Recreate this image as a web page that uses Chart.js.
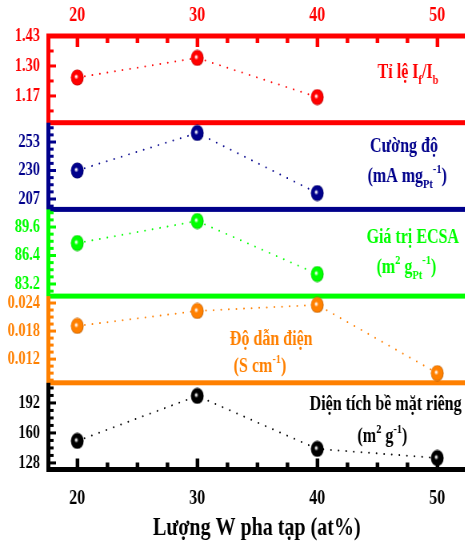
<!DOCTYPE html>
<html>
<head>
<meta charset="utf-8">
<script src="https://cdn.jsdelivr.net/npm/chart.js@4"></script>
<style>
    html, body { margin: 0; padding: 0; overflow: hidden; background: #fff; }
    /* the original picture is squeezed sideways, so draw wide and squeeze */
    #wrap { width: 582px; height: 552px; transform: scale(0.8, 1); transform-origin: 0 0; }
</style>
</head>
<body>
<div id="wrap"><canvas id="chart" width="582" height="552"></canvas></div>
<script>
const doping = [20, 30, 40, 50];
const xTicks = [20, 30, 40, 50];
const xRange = [17.56, 52.36];

// Tỉ lệ If/Ib
const ratioValues = [1.25, 1.335, 1.165];
const ratioTicks = [1.17, 1.30, 1.43];
const ratioRange = [1.054, 1.43];

// Cường độ (mA mgPt-1)
const currentValues = [230, 260.3, 211.8];
const currentTicks = [207, 230, 253];
const currentRange = [198.6, 268.6];

// Giá trị ECSA (m2 gPt-1)
const ecsaValues = [87.8, 90.27, 84.32];
const ecsaTicks = [83.2, 86.4, 89.6];
const ecsaRange = [81.84, 91.58];

// Độ dẫn điện (S cm-1)
const condValues = [0.0191, 0.0223, 0.0236, 0.0090];
const condTicks = [0.012, 0.018, 0.024];
const condRange = [0.00693, 0.02548];

// Diện tích bề mặt riêng (m2 g-1)
const areaValues = [151.5, 199.5, 143, 133.3];
const areaTicks = [128, 160, 192];
const areaRange = [121.0, 213.5];

const FONT = '"Liberation Serif", "Times New Roman", serif';

// top to bottom
const panels = [
    { id : 'yRatio', color : '#ff0000', values : ratioValues, ticks : ratioTicks, range : ratioRange, dec : 2, minor : 2,
      label : [
          { y : 78, x : 510, parts : [['Tỉ lệ I', 0], ['f', 1], ['/I', 0], ['b', 1]] }
      ] },
    { id : 'yCurrent', color : '#00008b', values : currentValues, ticks : currentTicks, range : currentRange, dec : 0, minor : 4,
      label : [
          { y : 152, x : 505, parts : [['Cường độ', 0]] },
          { y : 182, x : 509, parts : [['(mA mg', 0], ['Pt', 1], ['-1', 2], [')', 0]] }
      ] },
    { id : 'yEcsa', color : '#00ff00', values : ecsaValues, ticks : ecsaTicks, range : ecsaRange, dec : 1, minor : 4,
      label : [
          { y : 243, x : 516, parts : [['Giá trị ECSA', 0]] },
          { y : 273, x : 508, parts : [['(m', 0], ['2', 2], [' g', 0], ['Pt', 1], ['-1', 2], [')', 0]] }
      ] },
    { id : 'yCond', color : '#ff8000', values : condValues, ticks : condTicks, range : condRange, dec : 3, minor : 4,
      label : [
          { y : 345, x : 339, parts : [['Độ dẫn điện', 0]] },
          { y : 372, x : 325, parts : [['(S cm', 0], ['-1', 2], [')', 0]] }
      ] },
    { id : 'yArea', color : '#000000', values : areaValues, ticks : areaTicks, range : areaRange, dec : 0, minor : 4,
      label : [
          { y : 410, x : 482, parts : [['Diện tích bề mặt riêng', 0]] },
          { y : 442, x : 478, parts : [['(m', 0], ['2', 2], [' g', 0], ['-1', 2], [')', 0]] }
      ] }
];

// shiny ball used as marker
function ball(color) {
    const c = document.createElement('canvas');
    c.width = 17;
    c.height = 17;
    const g = c.getContext('2d');
    const grad = g.createRadialGradient(7, 7.5, 0.5, 8.5, 8.5, 8.5);
    grad.addColorStop(0, '#ffffff');
    grad.addColorStop(0.28, color);
    grad.addColorStop(0.8, color);
    grad.addColorStop(1, color === '#000000' ? '#000000' : shade(color));
    g.fillStyle = grad;
    g.beginPath();
    g.arc(8.5, 8.5, 8, 0, Math.PI * 2);
    g.fill();
    return c;
}

function shade(hex) {
    const n = parseInt(hex.slice(1), 16);
    const r = Math.round(((n >> 16) & 255) * 0.6);
    const gr = Math.round(((n >> 8) & 255) * 0.6);
    const b = Math.round((n & 255) * 0.6);
    return `rgb(${r},${gr},${b})`;
}

function fixX(height) {
    return (s) => {
        s.height = height;
        s.paddingLeft = 0;
        s.paddingRight = 0;
    };
}

const scales = {
    x : {
        type : 'linear', position : 'bottom', min : xRange[0], max : xRange[1],
        afterBuildTicks : (s) => { s.ticks = xTicks.map((v) => ({ value : v })); },
        grid : { display : false }, border : { display : false },
        ticks : { color : '#000', padding : 9, font : { family : FONT, size : 20, weight : 'bold' } },
        title : { display : true, text : 'Lượng W pha tạp (at%)', color : '#000',
                  font : { family : FONT, size : 25, weight : 'bold' }, padding : { top : 0, bottom : 8 } },
        afterFit : fixX(82.5)
    },
    xTop : {
        type : 'linear', position : 'top', min : xRange[0], max : xRange[1],
        afterBuildTicks : (s) => { s.ticks = xTicks.map((v) => ({ value : v })); },
        grid : { display : false }, border : { display : false },
        ticks : { color : '#ff0000', padding : 0, font : { family : FONT, size : 20, weight : 'bold' } },
        afterFit : fixX(36)
    }
};

panels.forEach((p, k) => {
    scales[p.id] = {
        type : 'linear', position : 'left', stack : 'panels', stackWeight : 1, weight : panels.length - k,
        min : p.range[0], max : p.range[1],
        afterBuildTicks : (s) => { s.ticks = p.ticks.map((v) => ({ value : v })); },
        grid : { display : false }, border : { display : false },
        ticks : { color : p.color, padding : 2, font : { family : FONT, size : 18, weight : 'bold' },
                  callback : (v) => Number(v).toFixed(p.dec) },
        afterFit : (s) => { s.width = 60; }
    };
});

const datasets = panels.map((p) => ({
    data : p.values.map((v, i) => ({ x : doping[i], y : v })),
    xAxisID : 'x',
    yAxisID : p.id,
    borderColor : p.color,
    borderWidth : 2,
    borderDash : [0.01, 9.5],
    borderCapStyle : 'round',
    pointStyle : ball(p.color),
    pointRadius : 8,
    fill : false,
    tension : 0
}));

/* frames and inward ticks */
const framePlugin = {
    id : 'frames',
    beforeDatasetsDraw(chart) {
        const ctx = chart.ctx;
        const area = chart.chartArea;
        const right = chart.width;
        ctx.save();
        panels.forEach((p, k) => {
            const s = chart.scales[p.id];
            ctx.fillStyle = p.color;
            // left axis
            ctx.fillRect(area.left - 2, s.top, 5, s.bottom - s.top);
            // lower border
            ctx.fillRect(area.left - 2, s.bottom - 2.5, right, 5);
            if (k === 0) {
                ctx.fillRect(area.left - 2, s.top - 2.5, right, 5);
            }
            // y ticks
            const step = p.ticks[1] - p.ticks[0];
            const mstep = step / p.minor;
            for (let v = p.ticks[0] - mstep * 8; v <= p.range[1] + 1e-9; v += mstep) {
                if (v < p.range[0]) continue;
                const y = s.getPixelForValue(v);
                const major = p.ticks.some((t) => Math.abs(t - v) < mstep / 10);
                ctx.fillRect(area.left + 3, y - 1.5, major ? 7 : 4, 3);
            }
        });

        const xs = chart.scales.x;
        const top = chart.scales[panels[0].id].top;
        const bottom = chart.scales[panels[panels.length - 1].id].bottom;
        for (let v = 17.5; v <= xRange[1]; v += 2.5) {
            if (v < xRange[0]) continue;
            const x = xs.getPixelForValue(v);
            const major = xTicks.includes(v);
            const len = major ? 9 : 5;
            ctx.fillStyle = '#ff0000';
            ctx.fillRect(x - 2, top + 2, 4.5, len);
            ctx.fillStyle = '#000000';
            ctx.fillRect(x - 2, bottom - 2 - len, 4.5, len);
        }
        ctx.restore();
    },
    afterDraw(chart) {
        const ctx = chart.ctx;
        ctx.save();
        panels.forEach((p) => {
            p.label.forEach((line) => {
                drawRich(ctx, line.parts, line.x, line.y, 20, p.color);
            });
        });
        ctx.restore();
    }
};

// text with sub (1) and superscript (2) parts, centred on cx
function drawRich(ctx, parts, cx, baseline, size, color) {
    const big = `bold ${size}px ${FONT}`;
    const small = `bold ${Math.round(size * 0.65)}px ${FONT}`;
    let w = 0;
    parts.forEach(([t, mode]) => {
        ctx.font = mode ? small : big;
        w += ctx.measureText(t).width;
    });
    let x = cx - w / 2;
    ctx.fillStyle = color;
    ctx.textAlign = 'left';
    ctx.textBaseline = 'alphabetic';
    parts.forEach(([t, mode]) => {
        ctx.font = mode ? small : big;
        let y = baseline;
        if (mode === 1) y += size * 0.3;
        if (mode === 2) y -= size * 0.45;
        ctx.fillText(t, x, y);
        x += ctx.measureText(t).width;
    });
}

new Chart(document.getElementById('chart'), {
    type : 'line',
    data : { datasets : datasets },
    options : {
        responsive : false,
        animation : false,
        devicePixelRatio : 1,
        layout : { padding : 0, autoPadding : false },
        plugins : { legend : { display : false }, tooltip : { enabled : false } },
        scales : scales
    },
    plugins : [framePlugin]
});
</script>
</body>
</html>
